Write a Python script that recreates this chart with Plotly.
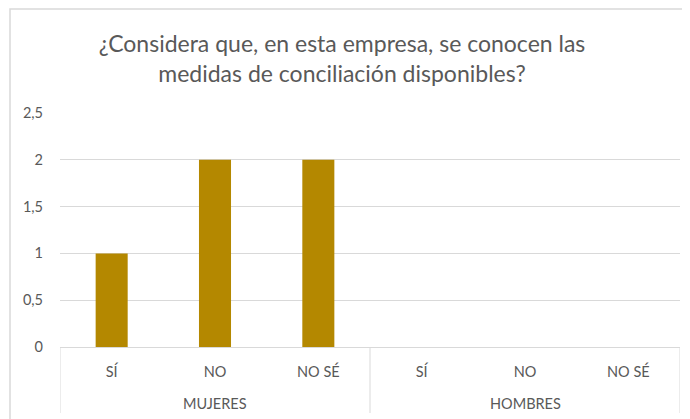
import plotly.graph_objects as go

groups = ["MUJERES", "MUJERES", "MUJERES", "HOMBRES", "HOMBRES", "HOMBRES"]
answers = ["SÍ", "NO", "NO SÉ", "SÍ", "NO", "NO SÉ"]
values = [1, 2, 2, 0, 0, 0]
y_ticks = [0, 0.5, 1, 1.5, 2, 2.5]

OFF = 8  # browser body margin
W, H = 690 - OFF, 419 - OFF
L, R, T, B = 60 - OFF, W - (680 - OFF), 113 - OFF, H - (347 - OFF)
pw, ph = W - L - R, H - T - B

keys = [g + " · " + a for g, a in zip(groups, answers)]
group_names = list(dict.fromkeys(groups))

fig = go.Figure()
fig.add_trace(go.Bar(
    x=keys, y=values,
    marker=dict(color="#B48800", line=dict(width=0)),
    width=0.31,
))

FONT = "Lato, Open Sans, sans-serif"
GRID = "#D9D9D9"

annotations = []
shapes = []
for g in group_names:
    idx = [i for i, gg in enumerate(groups) if gg == g]
    annotations.append(dict(
        x=sum(idx) / len(idx), xref="x",
        y=-(403 - 347) / ph, yref="paper", yanchor="middle",
        text=g, showarrow=False,
        font=dict(size=14.5, color="#595959", family=FONT),
    ))
# group dividers at the group edges
edges = [-0.5]
for i in range(1, len(groups)):
    if groups[i] != groups[i - 1]:
        edges.append(i - 0.5)
edges.append(len(groups) - 0.5)
for e in edges:
    shapes.append(dict(
        type="line", xref="x", yref="paper",
        x0=e, x1=e, y0=0, y1=-(413 - 347) / ph,
        line=dict(color=GRID, width=1),
    ))
# chart border
shapes.append(dict(
    type="rect", xref="paper", yref="paper",
    x0=(10 - 60) / pw, x1=(700 - 60) / pw,
    y0=-0.5, y1=(347 - 9) / ph,
    line=dict(color=GRID, width=1.5), fillcolor="rgba(0,0,0,0)",
    layer="below",
))

fig.update_layout(
    width=W, height=H,
    margin=dict(l=L, r=R, t=T, b=B, autoexpand=False),
    paper_bgcolor="white", plot_bgcolor="white",
    separators=",.",
    showlegend=False,
    font=dict(family=FONT, color="#595959", size=14.5),
    title=dict(
        text="¿Considera que, en esta empresa, se conocen las<br>medidas de conciliación disponibles?",
        x=(342 - OFF) / W, xanchor="center", xref="container",
        y=1 - (52 - OFF) / H, yanchor="middle", yref="container",
        font=dict(size=23, color="#595959", family=FONT),
    ),
    xaxis=dict(
        type="category", tickvals=keys, ticktext=answers,
        showline=True, linecolor=GRID, linewidth=1,
        ticks="", tickfont=dict(size=14.5, color="#595959"),
        showgrid=False, ticklabelstandoff=12, automargin=False,
        range=[-0.5, len(keys) - 0.5],
    ),
    yaxis=dict(
        range=[0, 2.5], tickvals=y_ticks,
        showgrid=True, gridcolor=GRID, gridwidth=1,
        zeroline=False, showline=False, ticks="",
        tickfont=dict(size=14.5, color="#595959"),
        ticklabelstandoff=16, automargin=False,
    ),
    annotations=annotations,
    shapes=shapes,
)

fig.write_html("out.html")
